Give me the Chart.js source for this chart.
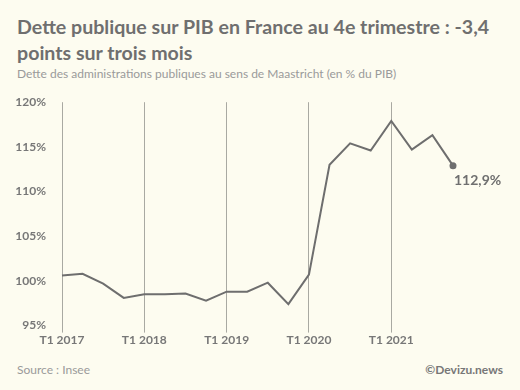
<!DOCTYPE html>
<html>
<head>
<meta charset="utf-8">
<script src="https://cdn.jsdelivr.net/npm/chart.js@4"></script>
<style>
  html, body { margin: 0; padding: 0; background: #fdfcf0; }
  #wrap { position: relative; width: 520px; height: 390px; background: #fdfcf0; font-family: Lato, "Open Sans", sans-serif; overflow: hidden; }
  #title { position: absolute; left: 17px; top: 14px; width: 500px; font-weight: bold; font-size: 19.6px; line-height: 26px; color: #6f6f6f; }
  #subtitle { position: absolute; left: 17px; top: 66px; font-size: 12px; color: #9a9a9a; }
  #source { position: absolute; left: 17px; top: 362px; font-size: 12px; color: #9a9a9a; }
  #credit { position: absolute; right: 17px; top: 362px; font-size: 12px; font-weight: bold; color: #777; }
  #chartBox { position: absolute; left: 0; top: 79px; width: 520px; height: 271px; }
</style>
</head>
<body>
<div id="wrap">
  <div id="title">Dette publique sur PIB en France au 4e trimestre : -3,4 points sur trois mois</div>
  <div id="subtitle">Dette des administrations publiques au sens de Maastricht (en % du PIB)</div>
  <div id="chartBox"><canvas id="debtChart"></canvas></div>
  <div id="source">Source : Insee</div>
  <div id="credit">©Devizu.news</div>
</div>
<script>
  var quarters = [
    "T1 2017", "T2 2017", "T3 2017", "T4 2017",
    "T1 2018", "T2 2018", "T3 2018", "T4 2018",
    "T1 2019", "T2 2019", "T3 2019", "T4 2019",
    "T1 2020", "T2 2020", "T3 2020", "T4 2020",
    "T1 2021", "T2 2021", "T3 2021", "T4 2021"
  ];
  var debtRatio = [
    100.6, 100.8, 99.7, 98.1,
    98.5, 98.5, 98.6, 97.8,
    98.8, 98.8, 99.8, 97.4,
    100.7, 113.0, 115.4, 114.6,
    117.9, 114.7, 116.3, 112.9
  ];
  var yTicks = [95, 100, 105, 110, 115, 120];
  var lastLabel = "112,9%";

  var greyText = "#777";
  var ctx = document.getElementById("debtChart").getContext("2d");

  var endLabel = {
    id: "endLabel",
    afterDatasetsDraw(chart) {
      var meta = chart.getDatasetMeta(0);
      var pt = meta.data[meta.data.length - 1];
      var c = chart.ctx;
      c.save();
      c.font = "bold 14px Lato, sans-serif";
      c.fillStyle = "#6f6f6f";
      c.textAlign = "left";
      c.textBaseline = "middle";
      c.fillText(lastLabel, pt.x + 1, pt.y + 15);
      c.restore();
    }
  };

  new Chart(ctx, {
    type: "line",
    data: {
      labels: quarters,
      datasets: [{
        data: debtRatio,
        borderColor: "#6e6e6e",
        borderWidth: 2,
        tension: 0,
        pointRadius: debtRatio.map((v, i) => i === debtRatio.length - 1 ? 3.5 : 0),
        pointBackgroundColor: "#6e6e6e",
        pointBorderWidth: 0
      }]
    },
    options: {
      responsive: true,
      maintainAspectRatio: false,
      animation: false,
      layout: { padding: { top: 0, right: 67, bottom: 3, left: 0 } },
      plugins: {
        legend: { display: false },
        tooltip: { enabled: false }
      },
      scales: {
        x: {
          offset: false,
          border: { display: false },
          grid: {
            color: c => c.index % 4 === 0 ? "#a9a9a2" : "transparent",
            lineWidth: 1,
            drawTicks: true,
            tickLength: 7
          },
          ticks: {
            autoSkip: false,
            maxRotation: 0,
            padding: 0,
            color: greyText,
            font: { family: "Lato", size: 12, weight: "bold" },
            callback: (v, i) => i % 4 === 0 ? quarters[i] : ""
          }
        },
        y: {
          min: 95,
          max: 120,
          border: { display: false },
          grid: { display: false, drawTicks: false },
          afterFit: scale => { scale.width = 62; },
          afterBuildTicks: scale => { scale.ticks = yTicks.map(v => ({ value: v })); },
          ticks: {
            padding: 16,
            color: greyText,
            font: { family: "Lato", size: 12, weight: "bold" },
            callback: v => v + "%"
          }
        }
      }
    },
    plugins: [endLabel]
  });
</script>
</body>
</html>
